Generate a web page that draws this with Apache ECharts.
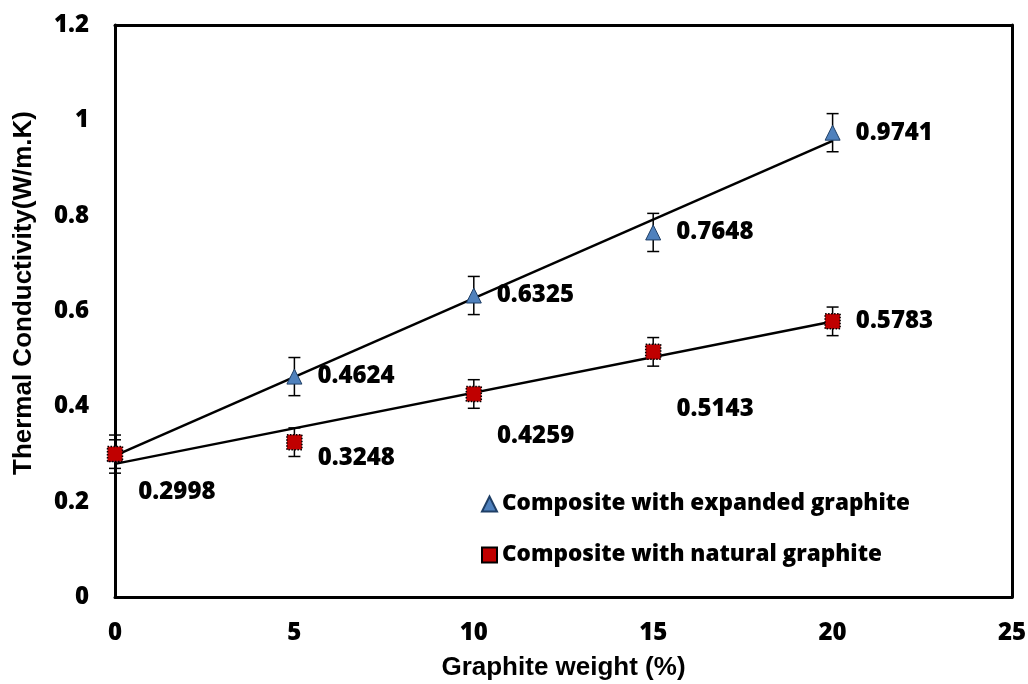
<!DOCTYPE html>
<html>
<head>
<meta charset="utf-8">
<script src="https://cdn.jsdelivr.net/npm/echarts@6/dist/echarts.min.js"></script>
<style>
  html, body { margin: 0; padding: 0; background: #fff; overflow: hidden; }
  #chart { width: 1028px; height: 684px; }
</style>
</head>
<body>
<div id="chart"></div>
<script>
// Graphite loading (wt %)
const graphiteWeight = [0, 5, 10, 15, 20];

// Measured thermal conductivity (W/m.K)
const expandedK = [0.2998, 0.4624, 0.6325, 0.7648, 0.9741];
const naturalK  = [0.2998, 0.3248, 0.4259, 0.5143, 0.5783];

// Half-width of the error bars (W/m.K)
const expandedErr = [0.04, 0.04, 0.04, 0.04, 0.04];
const naturalErr  = [0.03, 0.03, 0.03, 0.03, 0.03];

// Linear trend lines: [x, y] at the ends of the fitted range
const expandedTrend = [[0, 0.2965], [20, 0.9569]];
const naturalTrend  = [[0, 0.2793], [20, 0.5779]];

// Series names
const expandedName = 'Composite with expanded graphite';
const naturalName  = 'Composite with natural graphite';

// Axis ticks
const xTicks = [0, 5, 10, 15, 20, 25];
const yTicks = [0, 0.2, 0.4, 0.6, 0.8, 1, 1.2];

// Vertical label shifts (px) for the natural-graphite labels
const naturalLabelShift = [38, 16, 42, 57, 0];
// Which points carry a label
const expandedLabelShown = [false, true, true, true, true];

const boldFont = { fontFamily: 'Open Sans', fontWeight: 800, color: '#000' };
const labelFont = { ...boldFont, fontSize: 24 };
const titleFont = { fontFamily: 'Liberation Sans', fontWeight: 'bold', fontSize: 26, color: '#000' };
const frameLine = { show: true, onZero: false, lineStyle: { color: '#000', width: 3 } };

const xRange = { min: xTicks[0], max: xTicks[xTicks.length - 1], interval: 5 };
const yRange = { min: yTicks[0], max: yTicks[yTicks.length - 1], interval: 0.2 };

function pointsOf(ys) { return graphiteWeight.map((x, i) => [x, ys[i]]); }

function errorBarSeries(ys, errs) {
  return {
    type: 'custom',
    silent: true,
    z: 3,
    data: graphiteWeight.map((x, i) => [x, ys[i] - errs[i], ys[i] + errs[i]]),
    renderItem: function (params, api) {
      const lo = api.coord([api.value(0), api.value(1)]);
      const hi = api.coord([api.value(0), api.value(2)]);
      const cap = 6;
      const st = { stroke: '#000', lineWidth: 1.5 };
      return {
        type: 'group',
        children: [
          { type: 'line', shape: { x1: lo[0], y1: lo[1], x2: hi[0], y2: hi[1] }, style: st },
          { type: 'line', shape: { x1: lo[0] - cap, y1: lo[1], x2: lo[0] + cap, y2: lo[1] }, style: st },
          { type: 'line', shape: { x1: hi[0] - cap, y1: hi[1], x2: hi[0] + cap, y2: hi[1] }, style: st }
        ]
      };
    }
  };
}

const chart = echarts.init(document.getElementById('chart'), null, { renderer: 'canvas', width: 1028, height: 684 });

chart.setOption({
  animation: false,
  backgroundColor: '#fff',
  grid: {
    left: 115, right: 16, top: 25, bottom: 87,
    outerBoundsMode: 'none',
    containLabel: false,
    show: false
  },
  xAxis: [
    {
      type: 'value', ...xRange,
      name: 'Graphite weight (%)',
      nameLocation: 'middle', nameGap: 58,
      nameTextStyle: titleFont,
      axisLine: frameLine,
      axisTick: { show: false },
      splitLine: { show: false },
      axisLabel: { margin: 24, ...labelFont }
    },
    {
      // top edge of the plot frame
      type: 'value', position: 'top', ...xRange,
      axisLine: frameLine, axisTick: { show: false },
      axisLabel: { show: false }, splitLine: { show: false }
    }
  ],
  yAxis: [
    {
      type: 'value', ...yRange,
      name: 'Thermal Conductivity(W/m.K)',
      nameLocation: 'middle', nameGap: 78,
      nameTextStyle: { ...titleFont, padding: [0, 0, 0, 36] },
      axisLine: frameLine,
      axisTick: { show: false },
      splitLine: { show: false },
      axisLabel: {
        margin: 26, ...labelFont,
        formatter: v => String(Math.round(v * 10) / 10)
      }
    },
    {
      // right edge of the plot frame
      type: 'value', position: 'right', ...yRange,
      axisLine: frameLine, axisTick: { show: false },
      axisLabel: { show: false }, splitLine: { show: false }
    }
  ],
  legend: {
    data: [
      { name: expandedName, icon: 'triangle' },
      { name: naturalName, icon: 'rect' }
    ],
    orient: 'vertical',
    left: 481, top: 488, padding: 0,
    itemWidth: 15, itemHeight: 15, itemGap: 19,
    textStyle: { ...boldFont, fontSize: 22.5, lineHeight: 32 }
  },
  series: [
    {
      type: 'line', data: expandedTrend, showSymbol: false, silent: true, z: 2,
      lineStyle: { color: '#000', width: 2.5 }
    },
    {
      type: 'line', data: naturalTrend, showSymbol: false, silent: true, z: 2,
      lineStyle: { color: '#000', width: 2.5 }
    },
    errorBarSeries(expandedK, expandedErr),
    errorBarSeries(naturalK, naturalErr),
    {
      name: expandedName,
      type: 'scatter',
      symbol: 'triangle', symbolSize: 15, z: 4,
      itemStyle: { color: '#4F81BD', borderColor: '#1F3F66', borderWidth: 1, opacity: 1 },
      data: pointsOf(expandedK).map((p, i) => ({
        value: p,
        label: {
          show: expandedLabelShown[i], position: 'right', distance: 15,
          formatter: d => d.value[1].toFixed(4), ...labelFont
        }
      }))
    },
    {
      name: naturalName,
      type: 'scatter',
      symbol: 'rect', symbolSize: 15, z: 5,
      itemStyle: { color: '#C00000', borderColor: '#000', borderWidth: 1.5, borderType: 'dotted', opacity: 1 },
      data: pointsOf(naturalK).map((p, i) => ({
        value: p,
        label: {
          show: true, position: 'right', distance: 15, offset: [0, naturalLabelShift[i]],
          formatter: d => d.value[1].toFixed(4), ...labelFont
        }
      }))
    }
  ]
});
</script>
</body>
</html>
